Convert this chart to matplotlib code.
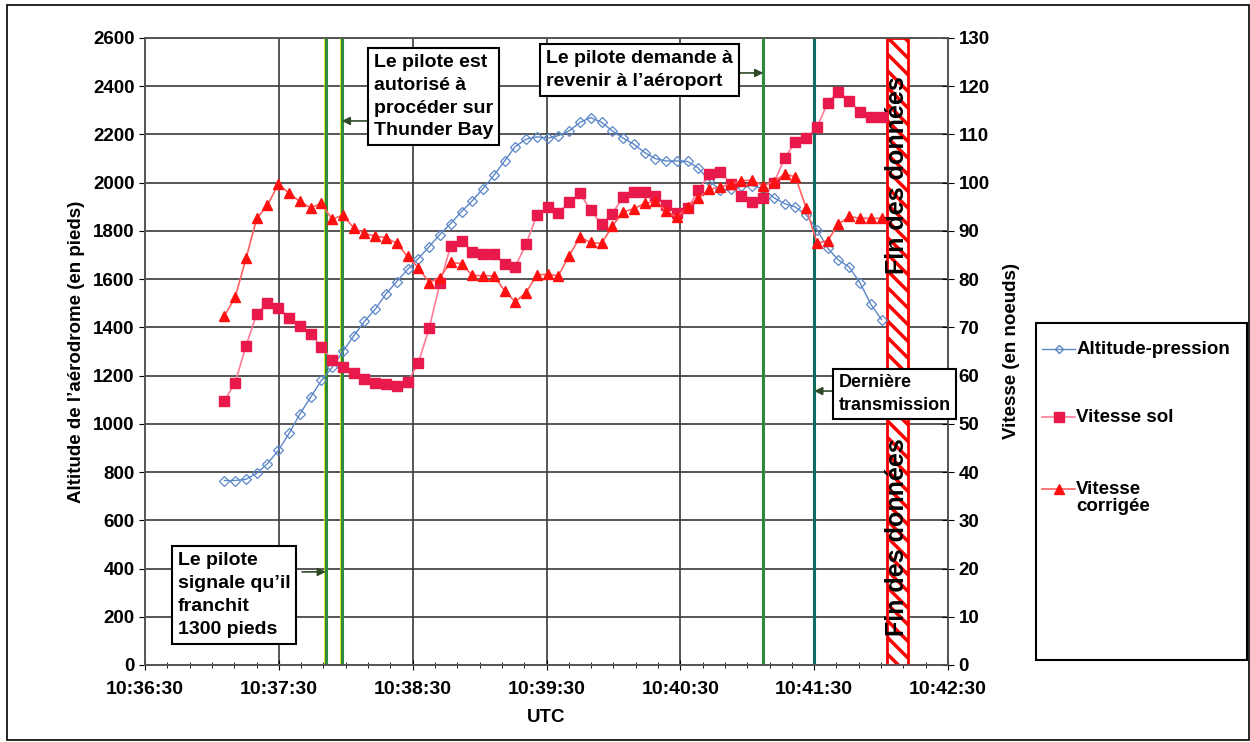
import matplotlib
matplotlib.use("Agg")
import matplotlib.pyplot as plt
from matplotlib.patches import Rectangle
from matplotlib.lines import Line2D
from matplotlib.ticker import MultipleLocator, FuncFormatter

plt.rcParams['font.family'] = ['Liberation Sans', 'DejaVu Sans']
plt.rcParams['font.weight'] = 'bold'
plt.rcParams['hatch.linewidth'] = 2.5
plt.rcParams['hatch.color'] = '#ff0000'

# --- data (seconds after 10:36:30 UTC) ---
T0 = 10 * 3600 + 36 * 60 + 30
t = [35.6, 40.4, 45.3, 50.1, 54.9, 59.8, 64.6, 69.4, 74.2, 79.1,
     83.9, 88.7, 93.6, 98.4, 103.2, 108.1, 112.9, 117.7, 122.5, 127.4,
     132.2, 137.0, 141.9, 146.7, 151.5, 156.4, 161.2, 166.0, 170.8, 175.7,
     180.5, 185.3, 190.2, 195.0, 199.8, 204.7, 209.5, 214.3, 219.1, 224.0,
     228.8, 233.6, 238.5, 243.3, 248.1, 253.0, 257.8, 262.6, 267.4, 272.3,
     277.1, 281.9, 286.8, 291.6, 296.4, 301.3, 306.1, 310.9, 315.7, 320.6,
     325.4, 330.2]

altitude = [765, 765, 770, 795, 835, 890, 960, 1040, 1110, 1180,
            1235, 1300, 1365, 1425, 1475, 1540, 1590, 1640, 1685, 1735,
            1785, 1830, 1880, 1925, 1975, 2030, 2090, 2150, 2180, 2190,
            2185, 2195, 2215, 2250, 2270, 2250, 2215, 2185, 2160, 2125,
            2100, 2090, 2090, 2088, 2060, 2008, 1968, 1972, 1985, 1988,
            1975, 1938, 1913, 1899, 1867, 1805, 1728, 1679, 1650, 1584,
            1496, 1432]

vitesse_sol = [54.8, 58.5, 66.2, 72.8, 75.1, 74.1, 71.9, 70.3, 68.6, 66.0,
               63.2, 61.7, 60.5, 59.2, 58.4, 58.3, 57.9, 58.6, 62.6, 69.8,
               79.1, 86.8, 88.0, 85.7, 85.3, 85.2, 83.1, 82.6, 87.2, 93.3,
               94.9, 93.8, 95.9, 97.8, 94.3, 91.4, 93.6, 97.0, 98.1, 98.1,
               97.3, 95.4, 93.8, 94.7, 98.4, 101.9, 102.3, 99.8, 97.3, 96.0,
               96.8, 99.9, 105.1, 108.5, 109.2, 111.5, 116.6, 118.9, 117.0, 114.7,
               113.7, 113.6]

vitesse_corr = [72.4, 76.2, 84.3, 92.6, 95.3, 99.7, 97.8, 96.1, 94.8, 95.7,
                92.4, 93.3, 90.6, 89.5, 88.9, 88.6, 87.4, 84.7, 82.4, 79.3,
                80.3, 83.5, 83.2, 80.8, 80.7, 80.7, 77.6, 75.3, 77.2, 80.9,
                81.0, 80.7, 84.9, 88.7, 87.6, 87.4, 91.0, 93.9, 94.6, 95.7,
                96.1, 94.1, 92.9, 94.9, 96.8, 98.6, 99.1, 99.7, 100.4, 100.5,
                99.4, 100.2, 101.8, 101.2, 94.8, 87.4, 88.0, 91.4, 93.0, 92.6,
                92.6, 92.6]

# events: (time, colour)
event_times = [81.1, 88.2, 277.2, 300.0]
event_colors = ['#2e8b3e', '#2e8b3e', '#2e8b3e', '#0f6b5f']
fin_donnees = (332.5, 342.0)

annotations = [
    # text, text pos (t, ft), font size, arrow start (t), arrow end (t), arrow ft
    ("Le pilote\nsignale qu\u2019il\nfranchit\n1300 pieds", (14.8, 290), 14, 70.4, 81.1, 386),
    ("Le pilote est\nautoris\u00e9 \u00e0\nproc\u00e9der sur\nThunder Bay", (102.7, 2357), 14, 100.0, 88.2, 2256),
    ("Le pilote demande \u00e0\nrevenir \u00e0 l\u2019a\u00e9roport", (179.8, 2467), 14, 265.0, 277.2, 2455),
    ("Derni\u00e8re\ntransmission", (310.9, 1124), 13, 308.9, 300.0, 1136),
]

C_ALT = '#5b86c8'
C_SOL = '#e8194b'
C_SOL_LINE = '#ff7a98'
C_COR = '#ff1010'
C_COR_LINE = '#ff6060'

fig = plt.figure(figsize=(12.5, 7.42), dpi=100)
ax = fig.add_axes([0.116, 0.1038, 0.6424, 0.845])
ax2 = ax.twinx()

ax.set_xlim(0, 360)
ax.set_ylim(0, 2600)
ax2.set_ylim(0, 130)

ax.xaxis.set_major_locator(MultipleLocator(60))
ax.xaxis.set_minor_locator(MultipleLocator(10))
ax.yaxis.set_major_locator(MultipleLocator(200))
ax2.yaxis.set_major_locator(MultipleLocator(10))


def fmt_time(x, pos):
    s = int(round(T0 + x))
    return f"{s // 3600}:{(s % 3600) // 60:02d}:{s % 60:02d}"


ax.xaxis.set_major_formatter(FuncFormatter(fmt_time))
ax.grid(True, which='major', color='#3a3a3a', lw=1.2)
ax.tick_params(axis='x', which='major', direction='inout', length=7, labelsize=14, pad=8)
ax.tick_params(axis='x', which='minor', direction='inout', length=5)
ax.tick_params(axis='y', direction='out', length=4, labelsize=13.5)
ax2.tick_params(axis='y', direction='inout', length=8, labelsize=13.5)
for a in (ax, ax2):
    for sp in a.spines.values():
        sp.set_color('#555555')
        sp.set_linewidth(1.2)

ax.set_xlabel('UTC', fontsize=13.5, fontweight='bold', labelpad=8)
ax.set_ylabel('Altitude de l\u2019a\u00e9rodrome (en pieds)', fontsize=13.5, fontweight='bold', labelpad=6)
ax2.set_ylabel('Vitesse (en noeuds)', fontsize=13.5, fontweight='bold', labelpad=10)

# event lines
for i, (et, ec) in enumerate(zip(event_times, event_colors)):
    if i < 2:
        ax.axvline(et - 0.5, color='#d8e800', lw=1.2, zorder=3)
    ax.axvline(et, color=ec, lw=2.2, zorder=3)

# end of data band
ax.axvspan(fin_donnees[0], fin_donnees[1], facecolor='white', edgecolor='#ff0000',
           hatch='\\\\', lw=2, zorder=3)
fx = (fin_donnees[0] + fin_donnees[1]) / 2
for fy in (2030, 530):
    ax.text(fx, fy, 'Fin des donn\u00e9es', rotation=90, ha='center', va='center',
            fontsize=18, fontweight='bold', zorder=4)

# series
ax.plot(t, altitude, color=C_ALT, lw=1.0, marker='D', ms=5, mfc='none',
        mec=C_ALT, mew=0.9, zorder=5)
ax2.plot(t, vitesse_sol, color=C_SOL_LINE, lw=1.2, marker='s', ms=7.5,
         mfc=C_SOL, mec=C_SOL, zorder=5)
ax2.plot(t, vitesse_corr, color=C_COR_LINE, lw=1.2, marker='^', ms=7.5,
         mfc=C_COR, mec=C_COR, zorder=5)

# annotation boxes and arrows
for text, (tx, ty), fs, a0, a1, ay in annotations:
    ax2.text(tx, ty, text, transform=ax.transData, ha='left', va='center',
             fontsize=fs, fontweight='bold', linespacing=1.45, zorder=10,
             bbox=dict(boxstyle='square,pad=0.3', fc='white', ec='black', lw=1.5))
    ax2.annotate('', xy=(a1, ay), xytext=(a0, ay), xycoords=ax.transData,
                 textcoords=ax.transData, zorder=9,
                 arrowprops=dict(arrowstyle='-|>', color='#2f4a26', lw=1.2,
                                 mutation_scale=12, shrinkA=0, shrinkB=0))

# legend box (drawn by hand to match the tall frame)
fig.add_artist(Rectangle((0.8288, 0.1105), 0.1688, 0.4542, transform=fig.transFigure,
                         fill=False, ec='black', lw=1.5))
legend_items = [
    ('Altitude-pression', 0.5296, dict(color=C_ALT, marker='D', ms=4, mfc='none', mec=C_ALT, lw=1)),
    ('Vitesse sol', 0.4380, dict(color=C_SOL_LINE, marker='s', ms=6.5, mfc=C_SOL, mec=C_SOL, lw=1.2)),
    ('Vitesse\ncorrig\u00e9e', 0.3410, dict(color=C_COR_LINE, marker='^', ms=7, mfc=C_COR, mec=C_COR, lw=1.2)),
]
for label, ly, style in legend_items:
    fig.add_artist(Line2D([0.8336, 0.847, 0.860], [ly, ly, ly], transform=fig.transFigure,
                          markevery=[1], **style))
    fig.text(0.861, ly + (0.0 if '\n' not in label else -0.0125), label, ha='left',
             va='center', fontsize=13.5, fontweight='bold', linespacing=1.0)

# outer frame
fig.add_artist(Rectangle((0.0056, 0.003), 0.9936, 0.99, transform=fig.transFigure,
                         fill=False, ec='black', lw=1.2))

fig.savefig('out.png', dpi=100)
